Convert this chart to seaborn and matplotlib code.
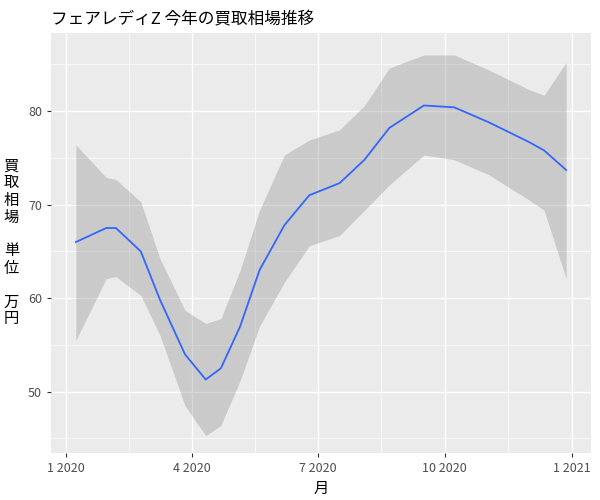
import pandas as pd
import numpy as np
import matplotlib
matplotlib.use('Agg')
import matplotlib.pyplot as plt
import matplotlib.dates as mdates
import seaborn as sns

dates = ["2020-01-08", "2020-01-30", "2020-02-06", "2020-02-24", "2020-03-09", "2020-03-27",
         "2020-04-11", "2020-04-22", "2020-05-06", "2020-05-20", "2020-06-07", "2020-06-25",
         "2020-07-17", "2020-08-04", "2020-08-22", "2020-09-16", "2020-10-08", "2020-11-02",
         "2020-12-01", "2020-12-12", "2020-12-28"]
price = [66.0, 67.5, 67.5, 65.0, 59.8, 54.0, 51.3, 52.5, 57.0, 63.0, 67.8, 71.0,
         72.3, 74.8, 78.2, 80.6, 80.4, 78.8, 76.7, 75.8, 73.7]
upper = [76.4, 72.9, 72.7, 70.3, 64.2, 58.7, 57.3, 57.8, 63.0, 69.4, 75.3, 76.9,
         78.0, 80.6, 84.6, 86.0, 86.0, 84.4, 82.3, 81.7, 85.2]
lower = [55.5, 62.1, 62.3, 60.3, 56.0, 48.5, 45.3, 46.4, 51.2, 57.0, 61.7, 65.6,
         66.7, 69.4, 72.1, 75.3, 74.8, 73.2, 70.5, 69.4, 62.1]
tick_dates = ["2020-01-01", "2020-04-01", "2020-07-01", "2020-10-01", "2021-01-01"]
tick_labels = ["1 2020", "4 2020", "7 2020", "10 2020", "1 2021"]

df = pd.DataFrame({"date": pd.to_datetime(dates), "price": price, "upper": upper, "lower": lower})

plt.rcParams['font.family'] = ['Noto Sans CJK JP', 'DejaVu Sans']
fig, ax = plt.subplots(figsize=(6, 5), dpi=100)
ax.set_facecolor('#EBEBEB')

ax.fill_between(df["date"], df["lower"], df["upper"], color='#999999', alpha=0.4, lw=0, zorder=2)
sns.lineplot(data=df, x="date", y="price", color='#3366FF', lw=1.3, ax=ax, zorder=3)

ticks = pd.to_datetime(tick_dates)
ax.set_xticks(ticks)
ax.set_xticklabels(tick_labels)
mids = ticks[:-1] + (ticks[1:] - ticks[:-1]) / 2
ax.set_xticks(mids, minor=True)
ax.set_yticks([50, 60, 70, 80])
ax.set_yticks([45, 55, 65, 75, 85], minor=True)
ax.set_xlim(pd.Timestamp("2019-12-21"), pd.Timestamp("2021-01-15"))
ax.set_ylim(43.5, 88.4)

ax.grid(which='major', color='white', lw=1.0, zorder=0)
ax.grid(which='minor', color='white', lw=0.5, zorder=0)
ax.set_axisbelow(True)
for s in ax.spines.values():
    s.set_visible(False)
ax.tick_params(which='both', length=3, color='#333333', labelcolor='#4D4D4D', labelsize=9)
ax.tick_params(which='minor', length=0)

ax.set_xlabel("月", fontsize=11)
ax.set_ylabel("買\n取\n相\n場\n\n単\n位\n\n万\n円", rotation=0, fontsize=11,
              va='center', labelpad=12, linespacing=1.0)
ax.set_title("フェアレディZ 今年の買取相場推移", loc='left', fontsize=12)

plt.subplots_adjust(left=0.085, right=0.985, top=0.935, bottom=0.095)
plt.savefig("out.png", dpi=100)
plt.close()
